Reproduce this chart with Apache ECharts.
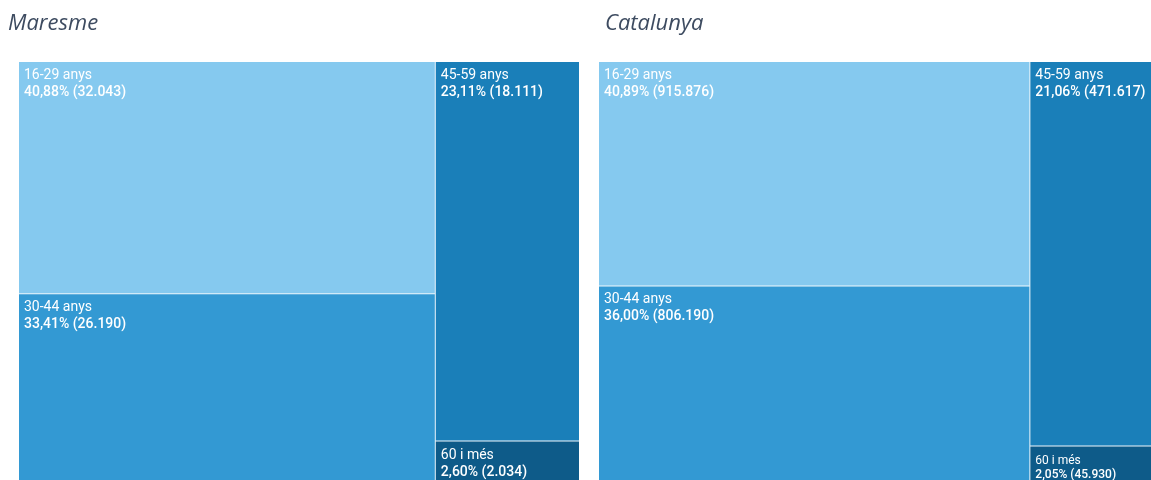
<!DOCTYPE html>
<html>
<head>
<meta charset="utf-8">
<script src="https://cdn.jsdelivr.net/npm/echarts@6/dist/echarts.min.js"></script>
<style>
html,body{margin:0;padding:0;background:#fff;}
#chart{width:1151px;height:480px;}
</style>
</head>
<body>
<div id="chart"></div>
<script>
const titles = ['Maresme', 'Catalunya'];
const categories = ['16-29 anys', '30-44 anys', '45-59 anys', '60 i més'];
const maresmeValues = [32043, 26190, 18111, 2034];
const maresmePct = ['40,88%', '33,41%', '23,11%', '2,60%'];
const catalunyaValues = [915876, 806190, 471617, 45930];
const catalunyaPct = ['40,89%', '36,00%', '21,06%', '2,05%'];
const colors = ['#85c9ef', '#3399d3', '#1a7fb9', '#0e5b89'];

function fmtNum(v) {
  return String(v).replace(/\B(?=(\d{3})+(?!\d))/g, '.');
}

function richStyle(size, lh) {
  return {
    a: { fontSize: size, lineHeight: lh, color: '#fff', fontFamily: 'Roboto' },
    b: { fontSize: size, lineHeight: lh, color: '#fff', fontFamily: 'Roboto', fontWeight: 500 }
  };
}

function buildData(values, pcts, lastLabel) {
  return categories.map(function (name, i) {
    const d = {
      name: name,
      value: values[i],
      pct: pcts[i],
      itemStyle: { color: colors[i] }
    };
    if (i === categories.length - 1) {
      d.label = lastLabel;
    }
    return d;
  });
}

function makeSeries(left, values, pcts, lastLabel) {
  return {
    type: 'treemap',
    left: left,
    top: 62,
    width: 560,
    height: 421,
    roam: false,
    nodeClick: false,
    breadcrumb: { show: false },
    animation: false,
    visibleMin: 1,
    levels: [
      { itemStyle: { borderWidth: 0, gapWidth: 1, borderColor: '#e3f1fa' } },
      { itemStyle: { borderWidth: 0, gapWidth: 0 } }
    ],
    label: {
      show: true,
      position: 'insideTopLeft',
      padding: [5, 5],
      color: '#fff',
      fontFamily: 'Roboto',
      formatter: function (p) {
        return '{a|' + p.name + '}\n{b|' + p.data.pct + ' (' + fmtNum(p.value) + ')}';
      },
      rich: richStyle(14, 17)
    },
    upperLabel: { show: false },
    data: buildData(values, pcts, lastLabel)
  };
}

const titleStyle = { fontFamily: 'Open Sans', fontStyle: 'italic', fontWeight: 'normal', fontSize: 22, color: '#3d4b60' };
const chart = echarts.init(document.getElementById('chart'));
chart.setOption({
  animation: false,
  backgroundColor: '#ffffff',
  title: [
    { text: titles[0], left: 3, top: 8, textStyle: titleStyle },
    { text: titles[1], left: 600, top: 8, textStyle: titleStyle }
  ],
  tooltip: { show: false },
  series: [
    makeSeries(19, maresmeValues, maresmePct, { padding: [6, 5, 0, 5], rich: richStyle(14, 17) }),
    makeSeries(599, catalunyaValues, catalunyaPct, { padding: [7, 5, 0, 5], rich: richStyle(12, 14) })
  ]
});
</script>
</body>
</html>
